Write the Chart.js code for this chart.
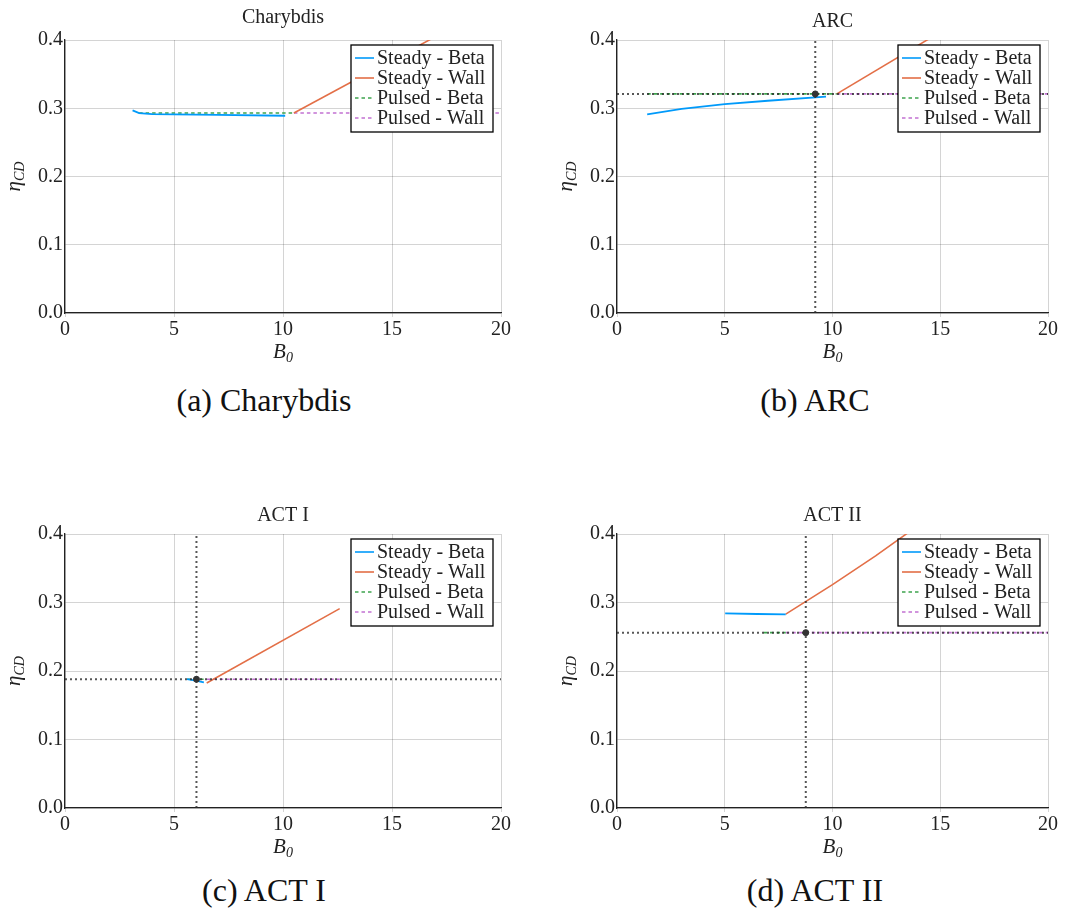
<!DOCTYPE html>
<html>
<head>
<meta charset="utf-8">
<script src="https://cdn.jsdelivr.net/npm/chart.js@4.4.1/dist/chart.umd.min.js"></script>
<style>
  body { margin: 0; background: #fff; width: 1068px; height: 915px; position: relative; overflow: hidden; font-family: "Liberation Serif", serif; }
  canvas { position: absolute; }
  .caption { position: absolute; font-size: 32px; line-height: 1; color: #111; white-space: nowrap; transform: translateX(-50%); }
</style>
</head>
<body>
<canvas id="chartA" width="530" height="372" style="left:0;top:0"></canvas>
<canvas id="chartB" width="533" height="372" style="left:535px;top:0"></canvas>
<canvas id="chartC" width="530" height="372" style="left:0;top:495px"></canvas>
<canvas id="chartD" width="533" height="372" style="left:535px;top:495px"></canvas>
<div class="caption" style="left:264px;top:384px">(a) Charybdis</div>
<div class="caption" style="left:815px;top:384px">(b) ARC</div>
<div class="caption" style="left:264px;top:874px">(c) ACT I</div>
<div class="caption" style="left:815px;top:874px">(d) ACT II</div>
<script>
// axis ticks
const b0Ticks = [0, 5, 10, 15, 20];
const etaTicks = [0.0, 0.1, 0.2, 0.3, 0.4];
const seriesNames = ['Steady - Beta', 'Steady - Wall', 'Pulsed - Beta', 'Pulsed - Wall'];

// (a) Charybdis
const charybdisSteadyBetaB0 = [3.1, 3.4, 4.0, 5.0, 7.0, 10.1];
const charybdisSteadyBetaEta = [0.297, 0.293, 0.2915, 0.291, 0.2902, 0.289];
const charybdisSteadyWallB0 = [10.5, 17.0];
const charybdisSteadyWallEta = [0.293, 0.405];
const charybdisPulsedBetaB0 = [3.4, 10.5];
const charybdisPulsedBetaEta = [0.293, 0.293];
const charybdisPulsedWallB0 = [10.5, 20];
const charybdisPulsedWallEta = [0.293, 0.293];

// (b) ARC
const arcSteadyBetaB0 = [1.4, 3.0, 5.0, 7.0, 9.7];
const arcSteadyBetaEta = [0.291, 0.299, 0.306, 0.311, 0.317];
const arcSteadyWallB0 = [10.2, 14.6];
const arcSteadyWallEta = [0.321, 0.404];
const arcPulsedBetaB0 = [1.4, 10.2];
const arcPulsedBetaEta = [0.321, 0.321];
const arcPulsedWallB0 = [10.2, 20];
const arcPulsedWallEta = [0.321, 0.321];
const arcSelected = [9.2, 0.321];

// (c) ACT I
const act1SteadyBetaB0 = [5.6, 6.0, 6.37];
const act1SteadyBetaEta = [0.188, 0.186, 0.1835];
const act1SteadyWallB0 = [6.5, 12.6];
const act1SteadyWallEta = [0.1825, 0.291];
const act1PulsedBetaB0 = [5.6, 6.5];
const act1PulsedBetaEta = [0.188, 0.188];
const act1PulsedWallB0 = [6.5, 12.6];
const act1PulsedWallEta = [0.188, 0.188];
const act1Selected = [6.03, 0.188];

// (d) ACT II
const act2SteadyBetaB0 = [5.02, 6.5, 7.83];
const act2SteadyBetaEta = [0.284, 0.2832, 0.2827];
const act2SteadyWallB0 = [7.83, 10.0, 12.0, 13.6];
const act2SteadyWallEta = [0.283, 0.326, 0.368, 0.404];
const act2PulsedBetaB0 = [6.8, 7.83];
const act2PulsedBetaEta = [0.256, 0.256];
const act2PulsedWallB0 = [7.83, 20];
const act2PulsedWallEta = [0.256, 0.256];
const act2Selected = [8.76, 0.256];

const colors = ['#009AFA', '#E36F47', '#3EA44E', '#C271D2'];
const dashes = [[], [], [3.5, 3], [3.5, 3]];
const gridColor = 'rgba(0,0,0,0.17)';
const serif = '"Liberation Serif", serif';

const pts = (xs, ys) => xs.map((x, i) => ({ x: x, y: ys[i] }));

function drawSub(ctx, main, sub, cx, baseY) {
    ctx.font = 'italic 21px ' + serif;
    const w1 = ctx.measureText(main).width;
    ctx.font = 'italic 14px ' + serif;
    const w2 = ctx.measureText(sub).width;
    const x0 = cx - (w1 + w2) / 2;
    ctx.textAlign = 'left';
    ctx.textBaseline = 'alphabetic';
    ctx.font = 'italic 21px ' + serif;
    ctx.fillText(main, x0, baseY);
    ctx.font = 'italic 14px ' + serif;
    ctx.fillText(sub, x0 + w1, baseY + 4);
}

// title, axis labels and the legend box inside the plot
const panelDecor = {
    id: 'panelDecor',
    afterDraw(chart, args, opts) {
        const ctx = chart.ctx;
        const a = chart.chartArea;
        ctx.save();
        ctx.fillStyle = '#222';
        ctx.font = '20px ' + serif;
        ctx.textAlign = 'center';
        ctx.textBaseline = 'alphabetic';
        ctx.fillText(opts.title, (a.left + a.right) / 2, opts.titleBase);
        drawSub(ctx, 'B', '0', (a.left + a.right) / 2, a.bottom + 45);
        ctx.save();
        ctx.translate(a.left - 45, (a.top + a.bottom) / 2);
        ctx.rotate(-Math.PI / 2);
        drawSub(ctx, 'η', 'CD', 0, 0);
        ctx.restore();

        // legend
        const bx = a.right - 150, by = a.top + 5, bw = 142, bh = 87;
        ctx.fillStyle = '#fff';
        ctx.fillRect(bx, by, bw, bh);
        ctx.strokeStyle = '#000';
        ctx.lineWidth = 1.3;
        ctx.strokeRect(bx, by, bw, bh);
        const items = chart.data.datasets.filter(d => d.inLegend);
        items.forEach((d, i) => {
            const y = by + 13 + i * 20;
            ctx.strokeStyle = d.borderColor;
            ctx.lineWidth = 1.6;
            ctx.setLineDash(d.borderDash || []);
            ctx.beginPath();
            ctx.moveTo(bx + 4, y);
            ctx.lineTo(bx + 23, y);
            ctx.stroke();
            ctx.setLineDash([]);
            ctx.fillStyle = '#222';
            ctx.font = '20px ' + serif;
            ctx.textAlign = 'left';
            ctx.textBaseline = 'middle';
            ctx.fillText(d.label, bx + 26, y + 1);
        });
        ctx.restore();
    }
};

function makeChart(id, geo, title, titleBase, series, selected) {
    const datasets = series.map((s, i) => ({
        label: seriesNames[i],
        data: pts(s[0], s[1]),
        borderColor: colors[i],
        borderWidth: i === 0 ? 1.8 : 1.6,
        borderDash: dashes[i],
        pointRadius: 0,
        fill: false,
        inLegend: true,
        order: i < 2 ? 2 : 3
    }));
    if (selected) {
        const dotted = { borderColor: 'rgba(45,45,45,0.8)', borderWidth: 2, borderDash: [2, 3], pointRadius: 0, fill: false, order: 1 };
        datasets.push(Object.assign({ label: 'h', data: [{ x: b0Ticks[0], y: selected[1] }, { x: b0Ticks[4], y: selected[1] }] }, dotted));
        datasets.push(Object.assign({ label: 'v', data: [{ x: selected[0], y: etaTicks[0] }, { x: selected[0], y: etaTicks[4] }] }, dotted));
        datasets.push({ label: 'pt', data: [{ x: selected[0], y: selected[1] }], showLine: false, pointRadius: 3, pointBackgroundColor: '#333', pointBorderColor: '#333', order: 0 });
    }

    return new Chart(document.getElementById(id).getContext('2d'), {
        type: 'line',
        data: { datasets: datasets },
        plugins: [panelDecor],
        options: {
            responsive: false,
            animation: false,
            layout: { padding: { top: geo.t, right: geo.w - geo.r, left: 0, bottom: 0 } },
            plugins: {
                legend: { display: false },
                tooltip: { enabled: false },
                panelDecor: { title: title, titleBase: titleBase }
            },
            scales: {
                x: {
                    type: 'linear', min: b0Ticks[0], max: b0Ticks[4],
                    ticks: { stepSize: 5, color: '#222', font: { family: serif, size: 20 }, padding: 1, maxRotation: 0 },
                    grid: { color: gridColor, tickLength: 4, tickColor: gridColor },
                    border: { color: '#222', width: 1.3 },
                    afterFit(s) { s.height = geo.h - geo.b; }
                },
                y: {
                    type: 'linear', min: etaTicks[0], max: etaTicks[4],
                    ticks: { stepSize: 0.1, color: '#222', font: { family: serif, size: 20 }, padding: 2, callback: v => v.toFixed(1) },
                    grid: { color: gridColor, drawTicks: false },
                    border: { color: '#222', width: 1.3 },
                    afterFit(s) { s.width = geo.l; }
                }
            }
        }
    });
}

makeChart('chartA', { l: 65, t: 40, r: 501, b: 313, w: 530, h: 372 }, 'Charybdis', 23, [
    [charybdisSteadyBetaB0, charybdisSteadyBetaEta],
    [charybdisSteadyWallB0, charybdisSteadyWallEta],
    [charybdisPulsedBetaB0, charybdisPulsedBetaEta],
    [charybdisPulsedWallB0, charybdisPulsedWallEta]
], null);

makeChart('chartB', { l: 82, t: 40, r: 513, b: 313, w: 533, h: 372 }, 'ARC', 27, [
    [arcSteadyBetaB0, arcSteadyBetaEta],
    [arcSteadyWallB0, arcSteadyWallEta],
    [arcPulsedBetaB0, arcPulsedBetaEta],
    [arcPulsedWallB0, arcPulsedWallEta]
], arcSelected);

makeChart('chartC', { l: 65, t: 39, r: 501, b: 313, w: 530, h: 372 }, 'ACT I', 26, [
    [act1SteadyBetaB0, act1SteadyBetaEta],
    [act1SteadyWallB0, act1SteadyWallEta],
    [act1PulsedBetaB0, act1PulsedBetaEta],
    [act1PulsedWallB0, act1PulsedWallEta]
], act1Selected);

makeChart('chartD', { l: 82, t: 39, r: 513, b: 313, w: 533, h: 372 }, 'ACT II', 26, [
    [act2SteadyBetaB0, act2SteadyBetaEta],
    [act2SteadyWallB0, act2SteadyWallEta],
    [act2PulsedBetaB0, act2PulsedBetaEta],
    [act2PulsedWallB0, act2PulsedWallEta]
], act2Selected);
</script>
</body>
</html>
